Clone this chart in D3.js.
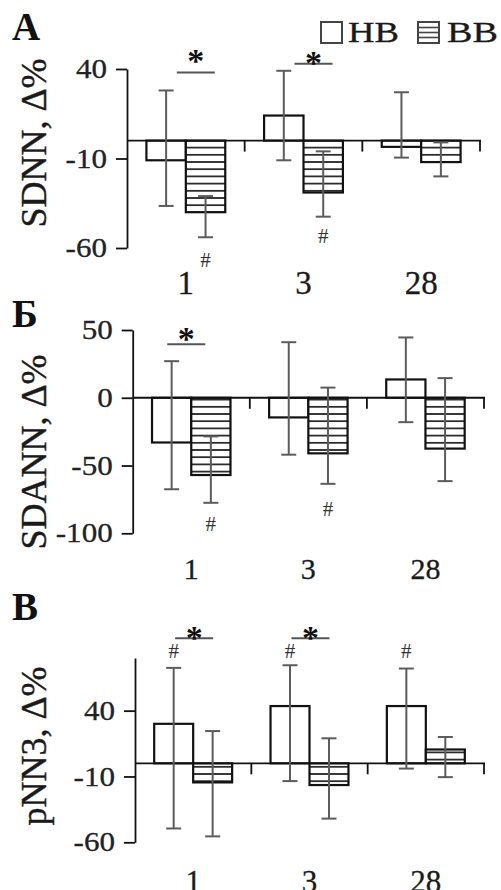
<!DOCTYPE html>
<html>
<head>
<meta charset="utf-8">
<script src="https://cdn.jsdelivr.net/npm/d3@7"></script>
<style>
  body { margin: 0; background: #fff; }
  svg { display: block; }
</style>
</head>
<body>
<div id="chart"></div>
<script>
// categories (days) and groups
const days = ["1", "3", "28"];
const groups = ["HB", "BB"];

// panel А : SDNN
const sdnnHB = [-11, 14, -3.5];
const sdnnHBLo = [-36.5, -11, -9.5];
const sdnnHBHi = [28, 39, 27];
const sdnnBB = [-40, -29, -12];
const sdnnBBLo = [-54, -42.5, -20];
const sdnnBBHi = [-31, -6, -1];
const sdnnTicks = [40, -10, -60];

// panel Б : SDANN
const sdannHB = [-33, -14.5, 13.5];
const sdannHBLo = [-67.5, -42, -18];
const sdannHBHi = [27, 41, 44.5];
const sdannBB = [-57, -41, -37.5];
const sdannBBLo = [-77.5, -63.5, -61.5];
const sdannBBHi = [-28.5, 7.5, 14.5];
const sdannTicks = [50, 0, -50, -100];

// panel В : pNN3
const pnnHB = [30, 43.5, 43.5];
const pnnHBLo = [-49.5, -13.5, -4];
const pnnHBHi = [72.5, 74.5, 72];
const pnnBB = [-14.5, -16.5, 10.5];
const pnnBBLo = [-55.5, -42, -10.5];
const pnnBBHi = [24.5, 19, 20];
const pnnTicks = [40, -10, -60];

// significance marks: "*" between HB and BB (day index, line value, star value)
const sdnnStars = [[0, 38, 48], [1, 43, 46.5]];
const sdannStars = [[0, 39.5, 47.5]];
const pnnStars = [[0, 95, 100], [1, 95, 100]];
// "#" marks (day index, group, value)
const sdnnHash = [[0, "BB", -66.5], [1, "BB", -53.5]];
const sdannHash = [[0, "BB", -93], [1, "BB", -82]];
const pnnHash = [[0, "HB", 85], [1, "HB", 85], [2, "HB", 85]];

const W = 501, H = 890;
const serif = "'Liberation Serif', 'Times New Roman', serif";

const svg = d3.select("#chart").append("svg")
  .attr("width", W)
  .attr("height", H);

const defs = svg.append("defs");
const hatch = defs.append("pattern")
  .attr("id", "hatch")
  .attr("patternUnits", "userSpaceOnUse")
  .attr("width", 8)
  .attr("height", 7.2);
hatch.append("rect").attr("width", 8).attr("height", 7.2).attr("fill", "#fff");
hatch.append("line")
  .attr("x1", 0).attr("x2", 8)
  .attr("y1", 3.6).attr("y2", 3.6)
  .attr("stroke", "#111").attr("stroke-width", 1.6);

// widen a text a bit, the scan looks stretched sideways
const stretch = (sel, k) => {
  sel.each(function () {
    const w = this.getComputedTextLength();
    d3.select(this).attr("textLength", w * k).attr("lengthAdjust", "spacingAndGlyphs");
  });
};

// panels
const panels = [
  { letter: "А", title: "SDNN, Δ%", hb: sdnnHB, hbLo: sdnnHBLo, hbHi: sdnnHBHi,
    bb: sdnnBB, bbLo: sdnnBBLo, bbHi: sdnnBBHi, ticks: sdnnTicks, domain: [-60, 40],
    stars: sdnnStars, hash: sdnnHash,
    yRange: [248, 69], axisX: 127, xEnd: 480, letterY: 40, titleY: 143, labelY: 294, labelSize: 33, starDx: 10 },
  { letter: "Б", title: "SDANN, Δ%", hb: sdannHB, hbLo: sdannHBLo, hbHi: sdannHBHi,
    bb: sdannBB, bbLo: sdannBBLo, bbHi: sdannBBHi, ticks: sdannTicks, domain: [-100, 50],
    stars: sdannStars, hash: sdannHash,
    yRange: [533.3, 330], axisX: 132.7, xEnd: 484, letterY: 327, titleY: 452, labelY: 579, labelSize: 30, starDx: -5 },
  { letter: "В", title: "pNN3, Δ%", hb: pnnHB, hbLo: pnnHBLo, hbHi: pnnHBHi,
    bb: pnnBB, bbLo: pnnBBLo, bbHi: pnnBBHi, ticks: pnnTicks, domain: [-60, 80],
    stars: pnnStars, hash: pnnHash,
    yRange: [842.3, 658], axisX: 135, xEnd: 484, letterY: 620, titleY: 746, labelY: 892, labelSize: 31, starDx: 1 }
];

const drawPanel = (p) => {
  const g = svg.append("g");

  const y = d3.scaleLinear().domain(p.domain).range(p.yRange);
  const x = d3.scaleBand().domain(days).range([p.axisX, p.xEnd]).padding(0);
  const barW = x.bandwidth() * 0.335;
  const y0 = y(0);

  // panel letter
  g.append("text")
    .attr("x", 12)
    .attr("y", p.letterY)
    .style("font-family", serif)
    .style("font-weight", "bold")
    .style("font-size", "39px")
    .attr("fill", "#111")
    .text(p.letter);

  // y title
  g.append("text")
    .attr("transform", `translate(46,${p.titleY}) rotate(-90)`)
    .attr("text-anchor", "middle")
    .style("font-family", serif)
    .style("font-size", "36px")
    .attr("fill", "#1a1a1a")
    .attr("stroke", "#1a1a1a").attr("stroke-width", 0.4)
    .text(p.title);

  // bars data
  const rows = [];
  days.forEach((d, i) => {
    rows.push({ day: d, grp: "HB", v: p.hb[i], lo: p.hbLo[i], hi: p.hbHi[i] });
    rows.push({ day: d, grp: "BB", v: p.bb[i], lo: p.bbLo[i], hi: p.bbHi[i] });
  });
  const cx = (r) => x(r.day) + x.bandwidth() / 2 + (r.grp === "HB" ? -barW / 2 : barW / 2);

  g.selectAll(".bar").data(rows).enter().append("rect")
    .attr("class", "bar")
    .attr("x", r => cx(r) - barW / 2)
    .attr("width", barW)
    .attr("y", r => Math.min(y(r.v), y0))
    .attr("height", r => Math.abs(y(r.v) - y0))
    .attr("fill", r => r.grp === "HB" ? "#fff" : "url(#hatch)")
    .attr("stroke", "#111")
    .attr("stroke-width", 2.2);

  // zero line and category ticks
  g.append("line")
    .attr("x1", p.axisX).attr("x2", p.xEnd + 1)
    .attr("y1", y0).attr("y2", y0)
    .attr("stroke", "#111").attr("stroke-width", 1.8);
  g.selectAll(".ctick").data(days).enter().append("line")
    .attr("x1", d => x(d) + x.bandwidth()).attr("x2", d => x(d) + x.bandwidth())
    .attr("y1", y0).attr("y2", y0 + 11)
    .attr("stroke", "#111").attr("stroke-width", 1.8);

  // error bars
  const err = g.selectAll(".err").data(rows).enter().append("g")
    .attr("stroke", "#5c5c5c").attr("stroke-width", 2);
  err.append("line")
    .attr("x1", cx).attr("x2", cx)
    .attr("y1", r => y(r.lo)).attr("y2", r => y(r.hi));
  err.append("line")
    .attr("x1", r => cx(r) - 7.5).attr("x2", r => cx(r) + 7.5)
    .attr("y1", r => y(r.lo)).attr("y2", r => y(r.lo));
  err.append("line")
    .attr("x1", r => cx(r) - 7.5).attr("x2", r => cx(r) + 7.5)
    .attr("y1", r => y(r.hi)).attr("y2", r => y(r.hi));

  // y axis (plain hyphen as in the figure)
  const axis = g.append("g")
    .attr("transform", `translate(${p.axisX},0)`)
    .call(d3.axisLeft(y).tickValues(p.ticks).tickFormat(d => String(d))
      .tickSize(11).tickSizeOuter(0).tickPadding(9));
  axis.select(".domain").attr("stroke", "#111").attr("stroke-width", 1.8);
  axis.selectAll(".tick line").attr("stroke", "#111").attr("stroke-width", 1.8);
  axis.selectAll(".tick text")
    .style("font-family", serif)
    .style("font-size", "27px")
    .attr("fill", "#222")
    .attr("stroke", "#222").attr("stroke-width", 0.3)
    .call(stretch, 1.15);

  // x labels
  g.selectAll(".xl").data(days).enter().append("text")
    .attr("x", d => x(d) + x.bandwidth() / 2)
    .attr("y", p.labelY)
    .attr("text-anchor", "middle")
    .style("font-family", serif)
    .style("font-size", p.labelSize + "px")
    .attr("fill", "#1a1a1a")
    .attr("stroke", "#1a1a1a").attr("stroke-width", 0.3)
    .text(d => d);

  // significance "*"
  p.stars.forEach(s => {
    const mid = x(days[s[0]]) + x.bandwidth() / 2 + p.starDx;
    g.append("line")
      .attr("x1", mid - 19).attr("x2", mid + 19)
      .attr("y1", y(s[1])).attr("y2", y(s[1]))
      .attr("stroke", "#555").attr("stroke-width", 2);
    g.append("text")
      .attr("x", mid)
      .attr("y", y(s[2]) + 17)
      .attr("text-anchor", "middle")
      .style("font-family", serif)
      .style("font-weight", "bold")
      .style("font-size", "34px")
      .attr("fill", "#111")
      .text("*");
  });

  // "#" marks
  p.hash.forEach(h => {
    const r = { day: days[h[0]], grp: h[1] };
    g.append("text")
      .attr("x", cx(r))
      .attr("y", y(h[2]) + 7)
      .attr("text-anchor", "middle")
      .style("font-family", serif)
      .style("font-size", "21px")
      .attr("fill", "#333")
      .text("#");
  });
};

panels.forEach(drawPanel);

// legend
const legend = svg.append("g");
legend.append("rect")
  .attr("x", 321).attr("y", 22).attr("width", 21).attr("height", 21)
  .attr("fill", "#fff").attr("stroke", "#444").attr("stroke-width", 2);
legend.append("text")
  .attr("x", 348).attr("y", 42)
  .attr("textLength", 51).attr("lengthAdjust", "spacingAndGlyphs")
  .style("font-family", serif).style("font-size", "30px").attr("fill", "#1a1a1a")
  .attr("stroke", "#1a1a1a").attr("stroke-width", 0.3)
  .text(groups[0]);
legend.append("rect")
  .attr("x", 418).attr("y", 22).attr("width", 21).attr("height", 21)
  .attr("fill", "#fff").attr("stroke", "#444").attr("stroke-width", 2);
legend.selectAll(".lg").data([27.5, 32.5, 37.5]).enter().append("line")
  .attr("x1", 418).attr("x2", 439)
  .attr("y1", d => d).attr("y2", d => d)
  .attr("stroke", "#444").attr("stroke-width", 1.6);
legend.append("text")
  .attr("x", 447).attr("y", 42)
  .attr("textLength", 51).attr("lengthAdjust", "spacingAndGlyphs")
  .style("font-family", serif).style("font-size", "30px").attr("fill", "#1a1a1a")
  .attr("stroke", "#1a1a1a").attr("stroke-width", 0.3)
  .text(groups[1]);
</script>
</body>
</html>
